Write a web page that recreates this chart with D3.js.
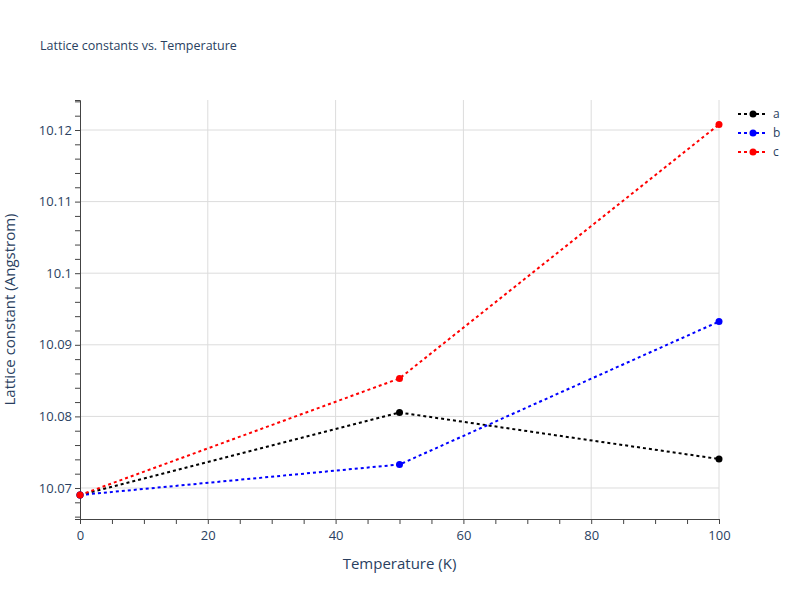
<!DOCTYPE html>
<html><head><meta charset="utf-8">
<script src="https://cdn.jsdelivr.net/npm/d3@7"></script>
<style>body{margin:0;background:#fff}text{font-family:"Open Sans",Arial,sans-serif}</style>
</head><body><svg id="c" width="800" height="600"></svg>
<script>
const temps=[0,50,100];
const seriesNames=["a","b","c"];
const aVals=[10.06902,10.08054,10.07405];
const bVals=[10.06902,10.07328,10.09325];
const cVals=[10.06902,10.0853,10.12077];
const colors=["black","blue","red"];
const xTicks=[0,20,40,60,80,100];
const yTicks=[10.07,10.08,10.09,10.1,10.11,10.12];
const yTickLabels=["10.07","10.08","10.09","10.1","10.11","10.12"];
const all=[aVals,bVals,cVals];
const svg=d3.select("#c");
const L=80,R=719,T=100,B=519;
const x=d3.scaleLinear().domain([0,100]).range([L,R]);
const y=d3.scaleLinear().domain([10.06567,10.12419]).range([B,T]);
const tc="#2a3f5f";
svg.append("g").selectAll("line").data(xTicks.filter(d=>d>0)).join("line")
 .attr("x1",d=>x(d)).attr("x2",d=>x(d)).attr("y1",T).attr("y2",B).attr("stroke","#dcdcdc");
svg.append("g").selectAll("line").data(yTicks).join("line")
 .attr("x1",L).attr("x2",R).attr("y1",d=>y(d)).attr("y2",d=>y(d)).attr("stroke","#dcdcdc");
const xa=svg.append("g").attr("transform",`translate(0,${B})`)
 .call(d3.axisBottom(x).tickValues(d3.range(0,101,5)).tickSize(5).tickFormat(d=>xTicks.includes(d)?d:""));
const ya=svg.append("g").attr("transform",`translate(${L},0)`)
 .call(d3.axisLeft(y).tickValues(d3.range(10.066,10.1245,0.002)).tickSize(5).tickFormat(d=>{const i=yTicks.findIndex(t=>Math.abs(t-d)<1e-6);return i>=0?yTickLabels[i]:"";}));
[xa,ya].forEach(g=>{g.selectAll("path,line").attr("stroke","#444");g.selectAll("text").attr("fill",tc).style("font-size","13px");});
xa.selectAll("text").attr("dy","1em");
const line=d3.line().x((d,i)=>x(temps[i])).y(d=>y(d));
all.forEach((vals,k)=>{
 svg.append("path").datum(vals).attr("d",line).attr("fill","none").attr("stroke",colors[k]).attr("stroke-width",2).attr("stroke-dasharray","3,3");
 svg.append("g").selectAll("circle").data(vals).join("circle").attr("cx",(d,i)=>x(temps[i])).attr("cy",d=>y(d)).attr("r",3.5).attr("fill",colors[k]);
});
seriesNames.forEach((n,k)=>{
 const yy=114+k*19;
 svg.append("line").attr("x1",738).attr("x2",768).attr("y1",yy).attr("y2",yy).attr("stroke",colors[k]).attr("stroke-width",2).attr("stroke-dasharray","3,3");
 svg.append("circle").attr("cx",753).attr("cy",yy).attr("r",3.5).attr("fill",colors[k]);
 svg.append("text").attr("x",773).attr("y",yy+4).text(n).attr("fill",tc).style("font-size","12px");
});
svg.append("text").attr("x",40).attr("y",50).text("Lattice constants vs. Temperature").attr("fill",tc).style("font-size","12.5px");
svg.append("text").attr("x",(L+R)/2).attr("y",569).attr("text-anchor","middle").text("Temperature (K)").attr("fill",tc).style("font-size","15px");
svg.append("text").attr("transform",`translate(15,${(T+B)/2}) rotate(-90)`).attr("text-anchor","middle").text("Lattice constant (Angstrom)").attr("fill",tc).style("font-size","15px");
</script></body></html>
